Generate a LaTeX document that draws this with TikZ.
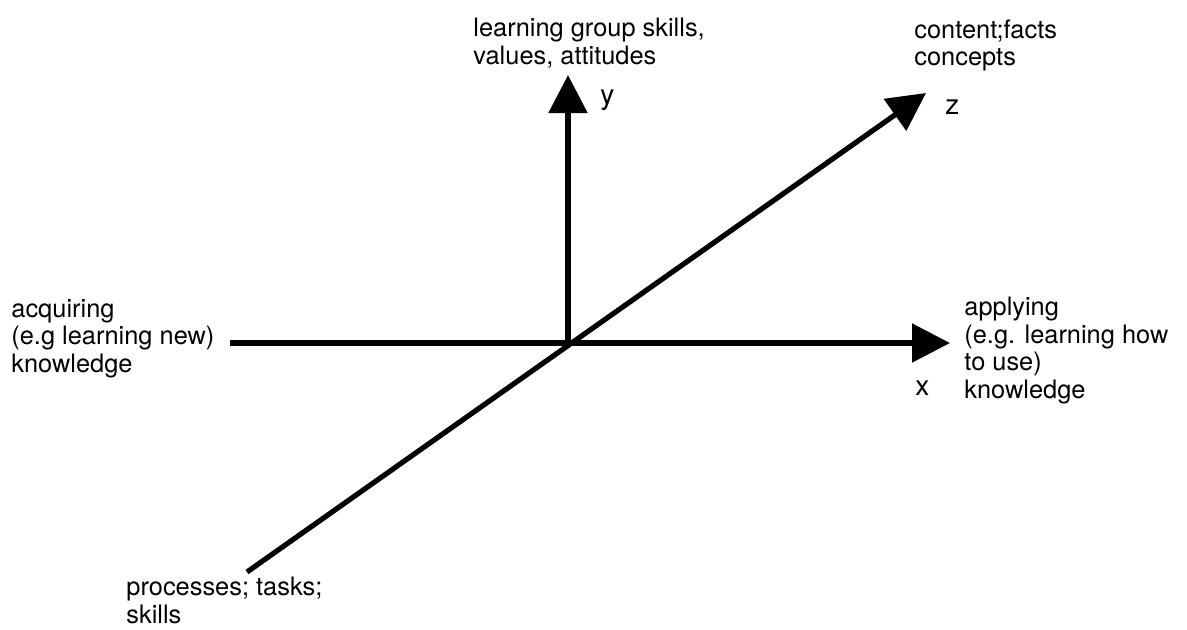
\documentclass[tikz,border=0pt]{standalone}
\usepackage{fontspec}
\setmainfont{TeX Gyre Heros}
\usetikzlibrary{arrows.meta}
\begin{document}
\begin{tikzpicture}[x=0.5pt,y=-0.5pt,
  axis/.style={line width=2.6pt,-{Triangle[length=19pt,width=19pt]}},
  lbl/.style={inner sep=0pt,anchor=north west,align=left,font=\fontsize{12.7pt}{13.75pt}\selectfont},
  letter/.style={inner sep=0pt,anchor=base west,font=\fontsize{14pt}{16pt}\selectfont}]
\useasboundingbox (0,0) rectangle (1187,629);
\coordinate (O) at (568,343);
\coordinate (xs) at (230,343);
\coordinate (xe) at (950,343);
\coordinate (ye) at (568,75);
\coordinate (zs) at (247,572);
\coordinate (ze) at (926,93);
\draw[axis] (xs) -- (xe);
\draw[axis] (O) -- (ye);
\draw[axis] (zs) -- (ze);
\node[lbl] (ylbl) at (473,18) {learning group skills,\\values, attitudes};
\node[lbl] (zlbl) at (914,19) {content;facts\\concepts};
\node[lbl] (acq) at (11,299) {acquiring\\(e.g learning new)\\knowledge};
\node[lbl] (app) at (964,297) {applying\\(e.g. learning how\\to use)\\knowledge};
\node[lbl] (proc) at (126,577) {processes; tasks;\\skills};
\node[letter] (ly) at (600,104) {y};
\node[letter] (lz) at (945,114) {z};
\node[letter] (lx) at (915,395) {x};
\end{tikzpicture}
\end{document}
